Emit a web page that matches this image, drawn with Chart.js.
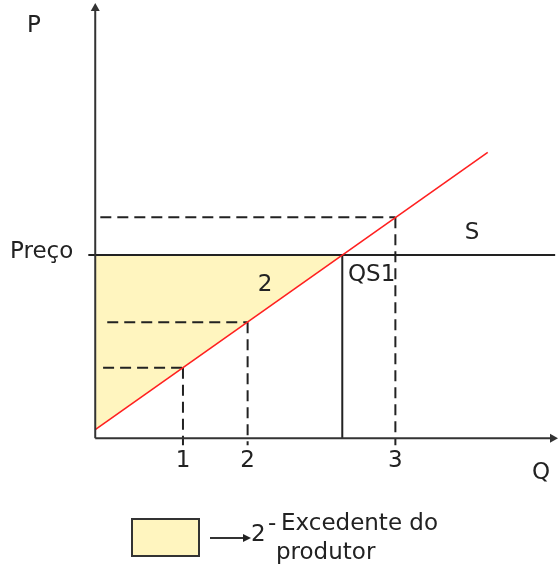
<!DOCTYPE html>
<html>
<head>
<meta charset="utf-8">
<script src="https://cdn.jsdelivr.net/npm/chart.js@4/dist/chart.umd.min.js"></script>
<style>
  html, body { margin:0; padding:0; background:#fff; }
  #wrap { width:558px; height:566px; position:relative; }
</style>
</head>
<body>
<div id="wrap"><canvas id="chart"></canvas></div>
<script>
// values (Q and P in the drawing's own units, 0..100)
const supplyQ = [0, 85];
const supplyP = [2, 66];
const priceLevel = [42.3];
const qs1 = [53.5];
const qTickValues = [19, 33, 65];
const qTickLabels = ['1', '2', '3'];
const pAtTicks = [16.3, 26.8, 51];
const dashStartQ = [1.7, 2.6, 1.1];

const INK = '#222';
const FILL = '#fff5bf';
const FONT = '"DejaVu Sans", sans-serif';

function line(points, color, width, dash){
  return {
    data: points,
    showLine: true,
    borderColor: color,
    borderWidth: width,
    borderDash: dash || [],
    pointRadius: 0,
    fill: false,
    order: 1
  };
}

const datasets = [];
// producer surplus triangle (drawn underneath everything)
datasets.push({
  data: [
    { x: supplyQ[0], y: supplyP[0] },
    { x: qs1[0], y: priceLevel[0] },
    { x: 0, y: priceLevel[0] },
    { x: supplyQ[0], y: supplyP[0] }
  ],
  showLine: true,
  borderWidth: 0,
  borderColor: 'rgba(0,0,0,0)',
  backgroundColor: FILL,
  pointRadius: 0,
  fill: 'shape',
  order: 10
});
// dashed guides
qTickValues.forEach((q, i) => {
  datasets.push(line([{ x: dashStartQ[i], y: pAtTicks[i] }, { x: q, y: pAtTicks[i] }], INK, 2, [11, 6]));
  datasets.push(line([{ x: q, y: pAtTicks[i] }, { x: q, y: -1.6 }], INK, 2, [11, 6]));
});
// price line and QS1
datasets.push(line([{ x: -1.5, y: priceLevel[0] }, { x: 99.6, y: priceLevel[0] }], INK, 2));
datasets.push(line([{ x: qs1[0], y: priceLevel[0] }, { x: qs1[0], y: 0 }], INK, 2));
// supply curve
const supply = line(supplyQ.map((q, i) => ({ x: q, y: supplyP[i] })), '#ff2020', 1.6);
supply.order = 0;
datasets.push(supply);

const axesAndText = {
  id: 'axesAndText',
  afterDatasetsDraw(chart){
    const ctx = chart.ctx;
    const xs = chart.scales.x, ys = chart.scales.y;
    const X = v => xs.getPixelForValue(v);
    const Y = v => ys.getPixelForValue(v);
    const x0 = X(0), y0 = Y(0);
    ctx.save();
    ctx.strokeStyle = '#333';
    ctx.fillStyle = '#333';
    ctx.lineWidth = 2;
    ctx.beginPath();
    ctx.moveTo(x0, y0); ctx.lineTo(x0, 8);
    ctx.moveTo(x0, y0); ctx.lineTo(552, y0);
    ctx.stroke();
    // arrow heads
    ctx.beginPath();
    ctx.moveTo(x0, 3); ctx.lineTo(x0 - 4.5, 11); ctx.lineTo(x0 + 4.5, 11); ctx.closePath(); ctx.fill();
    ctx.beginPath();
    ctx.moveTo(558, y0); ctx.lineTo(550, y0 - 4.5); ctx.lineTo(550, y0 + 4.5); ctx.closePath(); ctx.fill();

    ctx.fillStyle = INK;
    ctx.font = '23px ' + FONT;
    ctx.textBaseline = 'alphabetic';
    ctx.textAlign = 'left';
    ctx.fillText('P', 27, 32);
    ctx.fillText('Preço', 10, Y(priceLevel[0]) + 3);
    ctx.textAlign = 'center';
    qTickValues.forEach((q, i) => ctx.fillText(qTickLabels[i], X(q), 467));
    ctx.fillText('Q', 541, 479);
    ctx.fillText('2', 265, 291);
    ctx.fillText('S', 472, 239);
    ctx.textAlign = 'left';
    ctx.fillText('QS1', 348, 281);

    // legend
    ctx.fillStyle = FILL;
    ctx.fillRect(132, 519, 67, 37);
    ctx.strokeStyle = '#333';
    ctx.lineWidth = 2;
    ctx.strokeRect(132, 519, 67, 37);
    ctx.lineWidth = 1.8;
    ctx.beginPath(); ctx.moveTo(210, 538); ctx.lineTo(244, 538); ctx.stroke();
    ctx.fillStyle = '#222';
    ctx.beginPath(); ctx.moveTo(251, 538); ctx.lineTo(243, 534); ctx.lineTo(243, 542); ctx.closePath(); ctx.fill();
    ctx.fillText('2', 251, 541);
    ctx.fillText('-', 268, 530);
    ctx.fillText('Excedente do', 281, 530);
    ctx.fillText('produtor', 276, 559);
    ctx.restore();
  }
};

new Chart(document.getElementById('chart'), {
  type: 'scatter',
  data: { datasets },
  options: {
    responsive: true,
    maintainAspectRatio: false,
    animation: false,
    layout: { padding: { left: 86, right: 1, top: 5, bottom: 119 } },
    plugins: { legend: { display: false }, tooltip: { enabled: false } },
    scales: {
      x: { type: 'linear', min: -2, max: 100, display: false },
      y: { type: 'linear', min: -2, max: 100, display: false }
    }
  },
  plugins: [axesAndText]
});
</script>
</body>
</html>
